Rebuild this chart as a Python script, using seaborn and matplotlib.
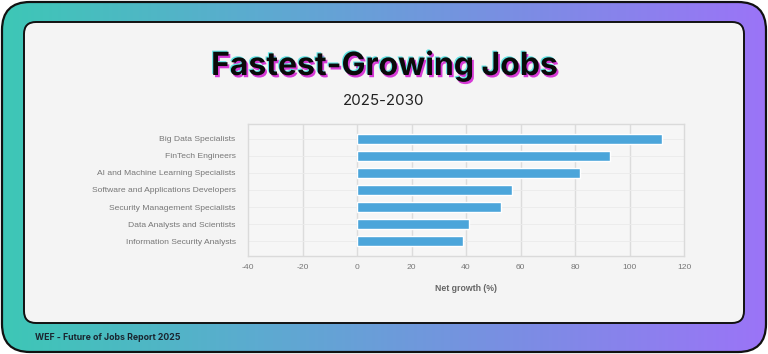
import numpy as np
import matplotlib
matplotlib.use("Agg")
import matplotlib.pyplot as plt
import matplotlib.patheffects as pe
from matplotlib.patches import FancyBboxPatch
import seaborn as sns
import pandas as pd

# data
jobs = ["Big Data Specialists",
        "FinTech Engineers",
        "AI and Machine Learning Specialists",
        "Software and Applications Developers",
        "Security Management Specialists",
        "Data Analysts and Scientists",
        "Information Security Analysts"]
growth = [112, 93, 82, 57, 53, 41, 39]
xticks = [-40, -20, 0, 20, 40, 60, 80, 100, 120]

df = pd.DataFrame({"job": jobs, "growth": growth})

sns.set_theme(style="white")
plt.rcParams['font.family'] = ['Liberation Sans', 'DejaVu Sans']
plt.rcParams['axes.unicode_minus'] = False

W, H = 768, 354
fig = plt.figure(figsize=(W / 100, H / 100), dpi=100)

# background frame in pixel coordinates
bg = fig.add_axes([0, 0, 1, 1])
bg.set_xlim(0, W)
bg.set_ylim(H, 0)
bg.axis("off")

outer = FancyBboxPatch((2, 2), W - 4, H - 4, boxstyle="round,pad=0,rounding_size=28",
                       facecolor="none", edgecolor="#111111", linewidth=1.6, zorder=3)
bg.add_patch(outer)
grad = np.linspace(0, 1, 256).reshape(1, -1)
cmap = matplotlib.colors.LinearSegmentedColormap.from_list(
    "frame", ["#3dc7b6", "#5cabd0", "#7a8ee3", "#9b74f7"])
im = bg.imshow(grad, cmap=cmap, extent=(0, W, H, 0), aspect="auto", zorder=1)
im.set_clip_path(outer)

inner = FancyBboxPatch((24, 22), 720, 301, boxstyle="round,pad=0,rounding_size=12",
                       facecolor="#f4f4f4", edgecolor="#111111", linewidth=1.4, zorder=4)
bg.add_patch(inner)

# title with offset colour shadow (path effects)
shadow = [pe.PathPatchEffect(offset=(1.3, -1.6), facecolor="#d63ad6", edgecolor="none"),
          pe.PathPatchEffect(offset=(-0.8, 0.8), facecolor="#5fe3e3", edgecolor="none"),
          pe.Normal()]
bg.text(384, 66, "Fastest-Growing Jobs", ha="center", va="center", fontsize=23,
        fontweight="bold", color="#0a0a0a", family=["Inter", "DejaVu Sans"],
        zorder=6, path_effects=shadow)
bg.text(384, 101, "2025-2030", ha="center", va="center", fontsize=10.8,
        color="#222222", family=["Inter", "DejaVu Sans"], zorder=6)

bg.text(35, 338, "WEF - Future of Jobs Report 2025", ha="left", va="center",
        fontsize=6.3, fontweight="bold", color="#1a2630",
        family=["Inter", "DejaVu Sans"], zorder=6)

# chart
ax = fig.add_axes([248 / W, 1 - 256 / H, (684 - 248) / W, (256 - 124) / H])
ax.set_facecolor("#f6f6f6")
ax.set_zorder(5)
sns.barplot(data=df, y="job", x="growth", orient="h", color="#4ba5da",
            width=0.58, saturation=1, ax=ax, zorder=3)
ax.set_xlim(-40, 120)
ax.set_xticks(xticks)
ax.set_ylim(len(jobs) - 1 + 0.88, -0.88)
for x in xticks[1:-1]:
    ax.axvline(x, color="#dcdcdc", linewidth=1, zorder=1)
for y in range(len(jobs)):
    ax.axhline(y, color="#ebebeb", linewidth=0.6, zorder=1)
for s in ax.spines.values():
    s.set_color("#dadada")
    s.set_linewidth(1)
ax.tick_params(axis="both", length=0, labelsize=6.1, labelcolor="#777777")
ax.tick_params(axis="x", pad=6)
ax.tick_params(axis="y", pad=9)
ax.set_ylabel("")
ax.set_xlabel("Net growth (%)", fontsize=6.3, fontweight="bold", color="#666666", labelpad=9)

fig.savefig("out.png", dpi=100)
